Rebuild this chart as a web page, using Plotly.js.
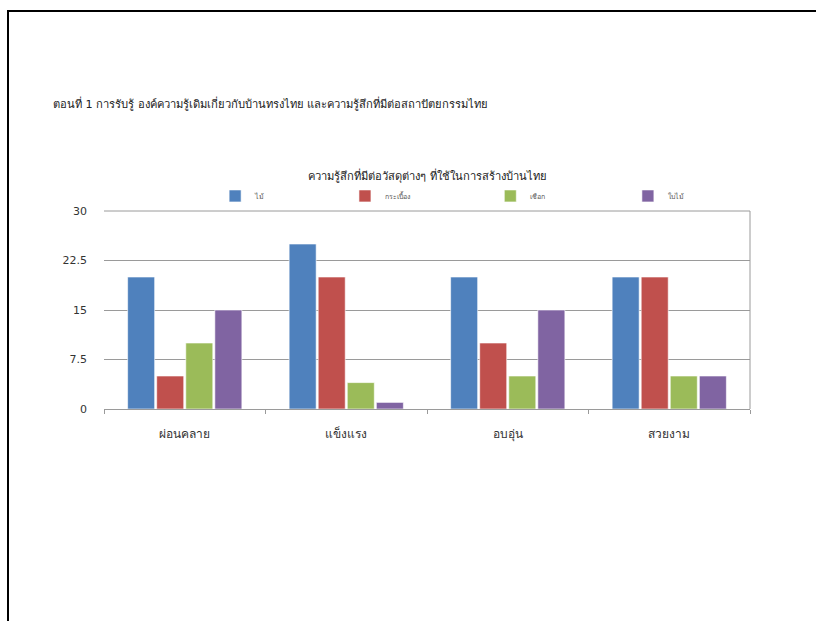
<!DOCTYPE html>
<html>
<head>
<meta charset="utf-8">
<script src="https://cdn.plot.ly/plotly-3.0.1.min.js"></script>
<style>
html,body{margin:0;padding:0;background:#fff;}
#wrap{position:relative;width:816px;height:621px;overflow:hidden;}
#chart{width:816px;height:621px;}
#frame{position:absolute;left:7px;top:10px;width:820px;height:620px;border-left:2px solid #000;border-top:2px solid #000;pointer-events:none;}
</style>
</head>
<body>
<div id="wrap"><div id="chart"></div><div id="frame"></div></div>
<script>
var categories = ["ผ่อนคลาย", "แข็งแรง", "อบอุ่น", "สวยงาม"];
var seriesNames = ["ไม้", "กระเบื้อง", "เชือก", "ใบไม้"];
var wood = [20, 25, 20, 20];
var tile = [5, 20, 10, 20];
var rope = [10, 4, 5, 5];
var leaf = [15, 1, 15, 5];
var yTicks = [0, 7.5, 15, 22.5, 30];
var pageHeading = "ตอนที่ 1 การรับรู้ องค์ความรู้เดิมเกี่ยวกับบ้านทรงไทย และความรู้สึกที่มีต่อสถาปัตยกรรมไทย";
var chartTitle = "ความรู้สึกที่มีต่อวัสดุต่างๆ ที่ใช้ในการสร้างบ้านไทย";

var colors = ["#4F81BD", "#C0504D", "#9BBB59", "#8064A2"];
var values = [wood, tile, rope, leaf];
var legendIds = ["legend", "legend2", "legend3", "legend4"];
var legendX = [0.172, 0.373, 0.598, 0.811];
var font = "Tahoma, 'DejaVu Sans', 'Noto Sans', sans-serif";

var traces = values.map(function (v, i) {
  return {
    type: "bar",
    name: seriesNames[i],
    x: categories,
    y: v,
    legend: legendIds[i],
    marker: {color: colors[i], line: {color: "rgba(255,255,255,0.6)", width: 1}},
    hoverinfo: "x+y+name"
  };
});

var layout = {
  width: 816, height: 621,
  paper_bgcolor: "#fff", plot_bgcolor: "#fff",
  font: {family: font, color: "#333", size: 11},
  margin: {l: 104, r: 66, t: 211, b: 212},
  barmode: "group",
  bargap: 0.28,
  bargroupgap: 0.07,
  showlegend: true,
  xaxis: {
    type: "category",
    showgrid: false,
    showline: true, linecolor: "#9a9a9a", linewidth: 1,
    ticks: "outside", tickson: "boundaries", ticklen: 4, tickcolor: "#9a9a9a",
    ticklabelstandoff: 14,
    tickfont: {size: 12, color: "#333"},
    zeroline: false, fixedrange: true
  },
  yaxis: {
    range: [0, 30], tickvals: yTicks,
    ticktext: yTicks.map(function (t) { return String(t); }),
    showgrid: true, gridcolor: "#9a9a9a", gridwidth: 1,
    showline: false, zeroline: false, ticks: "",
    ticklabelstandoff: 16,
    tickfont: {size: 11, color: "#333"}, fixedrange: true
  },
  shapes: [
    {type: "line", xref: "paper", yref: "paper", x0: 1, x1: 1, y0: 0, y1: 1,
     line: {color: "#9a9a9a", width: 1}},
    {type: "line", xref: "paper", yref: "paper", x0: 0, x1: 1, y0: 1, y1: 1,
     line: {color: "#9a9a9a", width: 1}}
  ],
  annotations: [
    {text: pageHeading, xref: "paper", yref: "paper", x: -0.082, y: 1.545,
     xanchor: "left", yanchor: "middle", showarrow: false,
     font: {size: 11.2, color: "#222", family: font}},
    {text: chartTitle, xref: "paper", yref: "paper", x: 0.5, y: 1.177,
     xanchor: "center", yanchor: "middle", showarrow: false,
     font: {size: 11.2, color: "#222", family: font}}
  ]
};

legendIds.forEach(function (id, i) {
  layout[id] = {
    orientation: "h", x: legendX[i], xanchor: "left", y: 1.076, yanchor: "middle",
    font: {size: 7, color: "#555", family: font},
    bgcolor: "rgba(0,0,0,0)", borderwidth: 0
  };
});

Plotly.newPlot("chart", traces, layout, {displayModeBar: false});
</script>
</body>
</html>
